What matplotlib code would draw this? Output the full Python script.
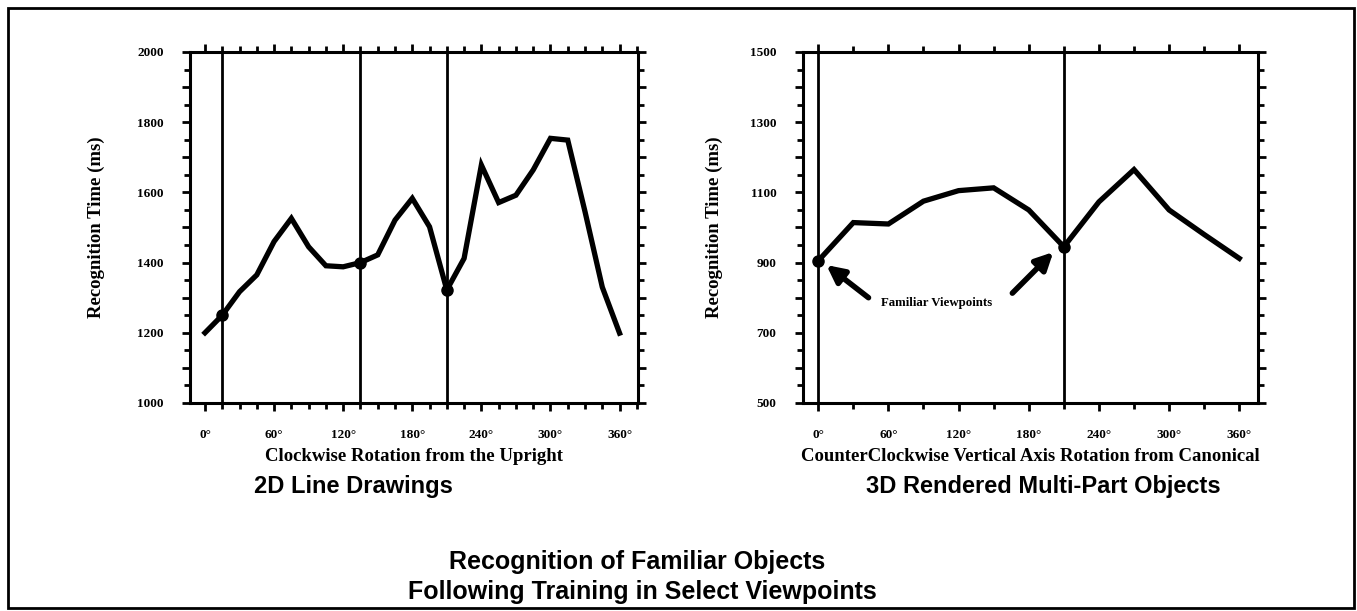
import numpy as np
import matplotlib
matplotlib.use("Agg")
import matplotlib.pyplot as plt
from matplotlib.patches import Rectangle
from matplotlib.ticker import MultipleLocator, FuncFormatter

# ---- data ----
angles_2d = list(range(0, 361, 15))
rt_2d = [1200, 1250, 1317, 1365, 1460, 1526, 1445, 1391, 1388, 1400, 1422, 1521,
         1583, 1502, 1322, 1412, 1678, 1571, 1592, 1664, 1754, 1749, 1545, 1330, 1199]
trained_2d = [15, 135, 210]

angles_3d = list(range(0, 361, 30))
rt_3d = [905, 1014, 1010, 1075, 1105, 1113, 1050, 945, 1073, 1165, 1050, 980, 912]
trained_3d = [0, 210]

ylim_2d = (1000, 2000)
ylim_3d = (500, 1500)
xlim = (-13, 376)

serif = "Liberation Serif"
sans = "Liberation Sans"

W, H = 1357, 611
fig = plt.figure(figsize=(W / 100, H / 100), dpi=100)


def px_axes(x0, y0, x1, y1):
    return fig.add_axes([x0 / W, 1 - y1 / H, (x1 - x0) / W, (y1 - y0) / H])


def style_axes(ax, ylim, ystart, xminor):
    ax.set_xlim(*xlim)
    ax.set_ylim(*ylim)
    for s in ax.spines.values():
        s.set_linewidth(2.2)
    ax.xaxis.set_major_locator(MultipleLocator(60))
    ax.xaxis.set_minor_locator(MultipleLocator(xminor))
    ax.yaxis.set_major_locator(MultipleLocator(100))
    ax.yaxis.set_minor_locator(MultipleLocator(50))
    ax.xaxis.set_major_formatter(FuncFormatter(lambda v, p: f"{int(v)}°"))
    ax.yaxis.set_major_formatter(
        FuncFormatter(lambda v, p: f"{int(v)}" if (v - ystart) % 200 == 0 else ""))
    ax.tick_params(which="both", direction="out", top=True, right=True, width=2)
    ax.tick_params(which="major", length=6)
    ax.tick_params(which="minor", length=4)
    ax.tick_params(axis="x", which="major", pad=13)
    ax.tick_params(axis="y", which="major", pad=13)
    for lab in ax.get_xticklabels() + ax.get_yticklabels():
        lab.set_fontfamily(serif)
        lab.set_fontweight("bold")
        lab.set_fontsize(9.5)


# ---- left panel ----
ax1 = px_axes(190, 52, 638, 403)
style_axes(ax1, ylim_2d, 1000, 15)
for a in trained_2d:
    ax1.axvline(a, color="black", lw=2)
ax1.plot(angles_2d, rt_2d, color="black", lw=3.8, solid_joinstyle="miter")
ax1.plot(trained_2d, [rt_2d[angles_2d.index(a)] for a in trained_2d], "o",
         color="black", ms=8)
ax1.set_xlabel("Clockwise Rotation from the Upright", fontfamily=serif,
               fontweight="bold", fontsize=13.5, labelpad=5)
ax1.set_ylabel("Recognition Time (ms)", fontfamily=serif, fontweight="bold",
               fontsize=13.5)
ax1.yaxis.set_label_coords(-0.19, 0.5)

# ---- right panel ----
ax2 = px_axes(803, 52, 1258, 403)
style_axes(ax2, ylim_3d, 500, 30)
for a in trained_3d:
    ax2.axvline(a, color="black", lw=2)
ax2.plot(angles_3d, rt_3d, color="black", lw=3.8, solid_joinstyle="miter")
ax2.plot(trained_3d, [rt_3d[angles_3d.index(a)] for a in trained_3d], "o",
         color="black", ms=8)
ax2.set_xlabel("CounterClockwise Vertical Axis Rotation from Canonical",
               fontfamily=serif, fontweight="bold", fontsize=13.5, labelpad=5)
ax2.set_ylabel("Recognition Time (ms)", fontfamily=serif, fontweight="bold",
               fontsize=13.5)
ax2.yaxis.set_label_coords(-0.176, 0.5)

arrow = dict(arrowstyle="-|>", lw=4, color="black", mutation_scale=26,
             shrinkA=0, shrinkB=0)
ax2.annotate("", xy=(7, 893), xytext=(43, 800), arrowprops=arrow)
ax2.annotate("", xy=(201, 930), xytext=(166, 813), arrowprops=arrow)
ax2.text(101, 785, "Familiar Viewpoints", fontfamily=serif, fontweight="bold",
         fontsize=9.3, ha="center", va="center")

# ---- titles ----
fig.text(353 / W, 1 - 486 / H, "2D Line Drawings", fontfamily=sans,
         fontweight="bold", fontsize=17, ha="center", va="center")
fig.text(1043 / W, 1 - 486 / H, "3D Rendered Multi-Part Objects", fontfamily=sans,
         fontweight="bold", fontsize=17, ha="center", va="center")
fig.text(637 / W, 1 - 562 / H, "Recognition of Familiar Objects", fontfamily=sans,
         fontweight="bold", fontsize=18, ha="center", va="center")
fig.text(642 / W, 1 - 592 / H, "Following Training in Select Viewpoints",
         fontfamily=sans, fontweight="bold", fontsize=18, ha="center", va="center")

# outer frame
fig.patches.append(Rectangle((8 / W, 1 - 608 / H), (1354 - 8) / W, (608 - 8) / H,
                             transform=fig.transFigure, fill=False, lw=2,
                             edgecolor="black"))

fig.savefig("out.png", dpi=100)
